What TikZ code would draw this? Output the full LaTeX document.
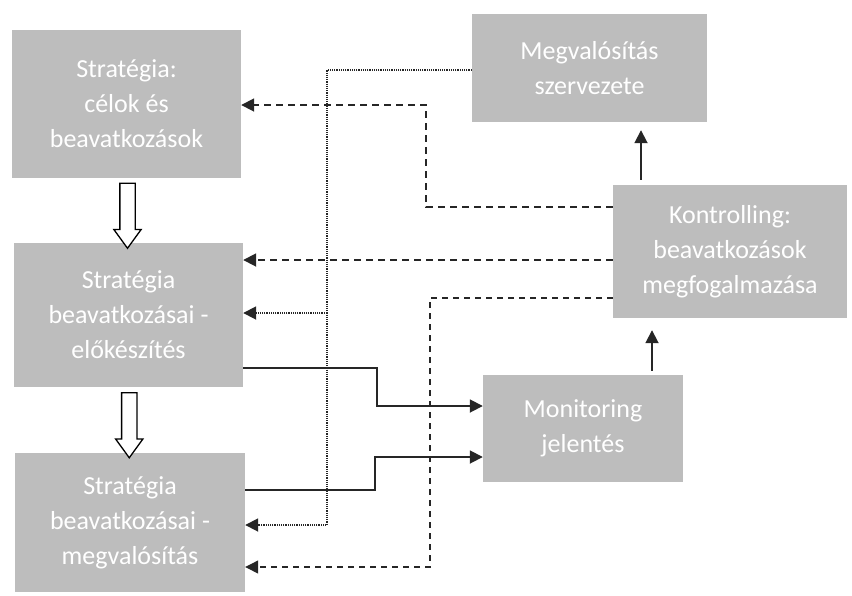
\documentclass[tikz,border=0pt]{standalone}
\usepackage{fontspec}
\setmainfont{Carlito}
\usepackage{tikz}
\usetikzlibrary{positioning,arrows.meta,shapes.arrows,calc}

\begin{document}
\begin{tikzpicture}[
  x=1pt, y=-1pt,
  font=\fontsize{26}{35}\selectfont,
  box/.style={fill=black!26, text=white, align=center, inner sep=0pt},
  hollow/.style={single arrow, draw, line width=1.3pt, fill=white, shape border rotate=270,
    text width=14pt, text height=14pt, single arrow head extend=6pt, single arrow tip angle=72, inner sep=0pt},
  arr/.style={-{Triangle[length=13pt, width=13pt]}, line width=1.8pt, black!85},
  dasharr/.style={arr, dash pattern=on 7pt off 5pt},
  thindash/.style={arr, line width=1.2pt, dash pattern=on 6pt off 5pt},
  dotarr/.style={arr, line width=1.8pt, dash pattern=on 1.2pt off 1pt}
]
  \useasboundingbox (0,0) rectangle (852,595);
  \node[box, minimum width=229pt, minimum height=148pt] (strat) at (126.5,104) {Stratégia:\\célok és\\beavatkozások};
  \node[box, minimum width=229pt, minimum height=144pt] (prep) at (128.5,315) {Stratégia\\beavatkozásai -\\előkészítés};
  \node[box, minimum width=230pt, minimum height=139pt] (impl) at (130,522.5) {Stratégia\\beavatkozásai -\\megvalósítás};
  \node[box, minimum width=235pt, minimum height=108pt] (org) at (589.5,68) {Megvalósítás\\szervezete};
  \node[box, minimum width=234pt, minimum height=133pt] (ctrl) at (730,251.5) {Kontrolling:\\beavatkozások\\megfogalmazása};
  \node[box, minimum width=200pt, minimum height=107pt] (mon) at (583,428.5) {Monitoring\\jelentés};

  \node[hollow, minimum height=65pt] (a1) at ($(strat.south)!0.5!(prep.north)$) {};
  \node[hollow, minimum height=65pt] (a2) at ($(prep.south)!0.5!(impl.north)$) {};

  \coordinate (b1) at (426,105);
  \coordinate (b3) at (430,567);
  \coordinate (b4) at (327,525);
  \coordinate (b5) at (327,313);
  \coordinate (b6) at (377,406);
  \coordinate (b7) at (375,457);

  \draw[dasharr] (ctrl.west |- 0,207) -| (b1) -- (strat.east |- b1);
  \draw[dasharr] (ctrl.west |- 0,260) -- (prep.east |- 0,260);
  \draw[thindash] (ctrl.west |- 0,298) -| (b3) -- (impl.east |- b3);
  \draw[dotarr] (org.west |- 0,70) -| (b4) -- (impl.east |- b4);
  \draw[dotarr] (b5) -- (prep.east |- b5);
  \draw[arr] (prep.east |- 0,368) -| (b6) -- (mon.west |- b6);
  \draw[arr] (impl.east |- 0,490) -| (b7) -- (mon.west |- b7);
  \draw[arr, shorten <=5pt, shorten >=8pt] (ctrl.north -| 641,0) -- (org.south -| 641,0);
  \draw[arr, shorten <=4pt, shorten >=12pt] (mon.north -| 652,0) -- (ctrl.south -| 652,0);
\end{tikzpicture}
\end{document}
